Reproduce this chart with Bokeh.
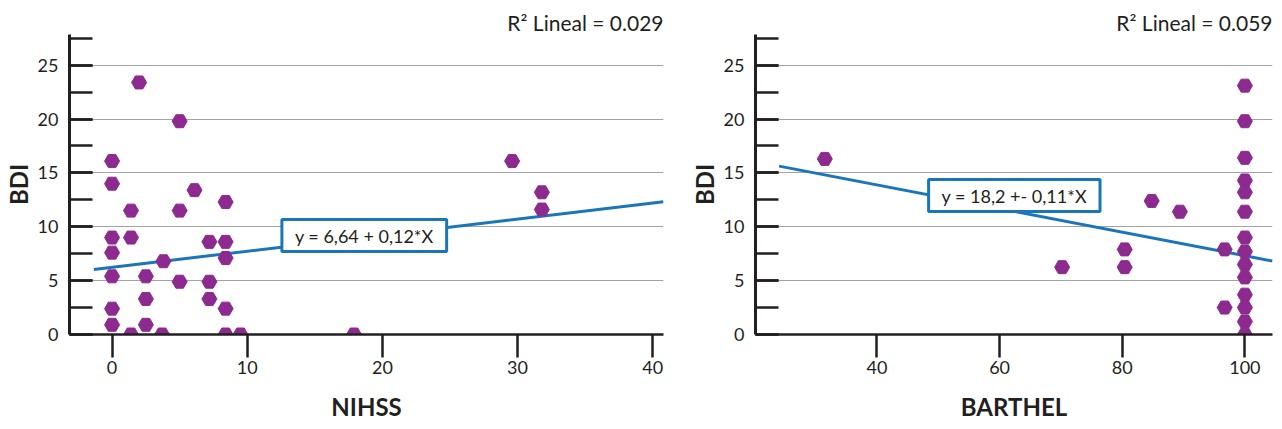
from bokeh.plotting import figure
from bokeh.models import Range1d, SingleIntervalTicker, FixedTicker, Label
from bokeh.layouts import row
from bokeh.embed import file_html
from bokeh.resources import INLINE

# ---------------- data ----------------
nihss = [0, 0, 0, 0, 0, 0, 0, 1.4, 1.4, 1.4, 2.0, 2.5, 2.5, 2.5, 3.7, 3.8,
         5.0, 5.0, 5.0, 6.1, 7.2, 7.2, 7.2, 8.4, 8.4, 8.4, 8.4, 8.4, 9.5,
         17.9, 29.6, 31.8, 31.8]
bdi_nihss = [16.1, 14.0, 9.0, 7.6, 5.4, 2.4, 0.9, 11.5, 9.0, 0.0, 23.4, 5.4,
             3.3, 0.9, 0.0, 6.8, 19.8, 11.5, 4.9, 13.4, 8.6, 4.9, 3.3, 12.3,
             8.6, 7.1, 2.4, 0.0, 0.0, 0.0, 16.1, 13.2, 11.6]

barthel = [31.5, 70.2, 80.4, 80.4, 84.8, 89.4, 96.7, 96.7,
           100, 100, 100, 100, 100, 100, 100, 100, 100, 100, 100, 100, 100, 100]
bdi_barthel = [16.3, 6.25, 7.9, 6.25, 12.4, 11.4, 7.9, 2.5,
               23.1, 19.8, 16.4, 14.3, 13.2, 11.4, 9.0, 7.7, 6.5, 5.3, 3.7, 2.5, 1.2, 0.0]

fit_nihss_x = [-1.35, 40.8]
fit_nihss_y = [6.04, 12.33]
fit_barthel_x = [24.05, 104.5]
fit_barthel_y = [15.63, 6.82]

eq_nihss = "y = 6,64 + 0,12*X"
eq_barthel = "y = 18,2 +- 0,11*X"
r2_nihss = "R² Lineal = 0.029"
r2_barthel = "R² Lineal = 0.059"

xticks_nihss = [0, 10, 20, 30, 40]
xticks_barthel = [40, 60, 80, 100]

FONT = "Lato"
PURPLE = "#8c2a8f"
BLUE = "#1b75bb"
INK = "#231f20"
YMAX = 27.85


def make(w, xr, xticks, xs, ys, fx, fy, eq, eq_pos, r2, r2_off, xlabel, left_b, right_b):
    p = figure(width=w, height=429, x_range=Range1d(*xr), y_range=Range1d(0, YMAX),
               output_backend="svg", toolbar_location=None,
               min_border_left=left_b, min_border_right=right_b,
               min_border_top=34, min_border_bottom=95, title=r2)
    p.outline_line_color = None
    p.background_fill_color = "white"
    p.border_fill_color = "white"

    p.title.align = "right"
    p.title.text_font = FONT
    p.title.text_font_size = "21px"
    p.title.text_font_style = "normal"
    p.title.text_color = INK
    p.title.standoff = 0
    p.title.offset = r2_off

    p.xgrid.visible = False
    p.yaxis.ticker = SingleIntervalTicker(interval=5, num_minor_ticks=2)
    p.ygrid.grid_line_color = "#a3a3a3"
    p.ygrid.grid_line_width = 1

    p.xaxis.ticker = FixedTicker(ticks=xticks)
    for ax in (p.xaxis[0], p.yaxis[0]):
        ax.axis_line_color = INK
        ax.major_tick_line_color = INK
        ax.minor_tick_line_color = INK
        ax.major_label_text_font = FONT
        ax.major_label_text_font_size = "18px"
        ax.major_label_text_color = INK
        ax.axis_label_text_font = FONT
        ax.axis_label_text_font_size = "24px"
        ax.axis_label_text_font_style = "bold"
        ax.axis_label_text_color = INK

    xa = p.xaxis[0]
    xa.axis_line_width = 2.5
    xa.major_tick_line_width = 2.5
    xa.major_tick_in = 0
    xa.major_tick_out = 23
    xa.minor_tick_in = 0
    xa.minor_tick_out = 0
    xa.major_label_standoff = 3
    xa.axis_label = xlabel
    xa.axis_label_standoff = 15

    ya = p.yaxis[0]
    ya.axis_line_width = 3
    ya.major_tick_line_width = 2.5
    ya.minor_tick_line_width = 2.5
    ya.major_tick_in = 23
    ya.major_tick_out = 0
    ya.minor_tick_in = 23
    ya.minor_tick_out = 0
    ya.major_label_standoff = 11
    ya.axis_label = "BDI"
    ya.axis_label_standoff = 2

    p.line(fx, fy, line_color=BLUE, line_width=3)
    p.scatter(xs, ys, marker="hex", size=15, fill_color=PURPLE, line_color=PURPLE)

    lab = Label(x=eq_pos[0], y=eq_pos[1], text=eq, text_align="center",
                text_baseline="middle", text_font=FONT, text_font_size="18px",
                text_color=INK, background_fill_color="white", background_fill_alpha=1.0,
                border_line_color=BLUE, border_line_width=3,
                padding=dict(left=13, right=13, top=5, bottom=5))
    p.add_layout(lab)
    return p


p1 = make(686, (-3.15, 40.8), xticks_nihss, nihss, bdi_nihss, fit_nihss_x, fit_nihss_y,
          eq_nihss, (18.66, 9.19), r2_nihss, 0, "NIHSS", 68, 23)
p2 = make(596, (20.2, 104.5), xticks_barthel, barthel, bdi_barthel, fit_barthel_x, fit_barthel_y,
          eq_barthel, (62.4, 12.9), r2_barthel, 0, "BARTHEL", 68, 10)

layout = row(p1, p2)
open("out.html", "w").write(file_html(layout, INLINE))
